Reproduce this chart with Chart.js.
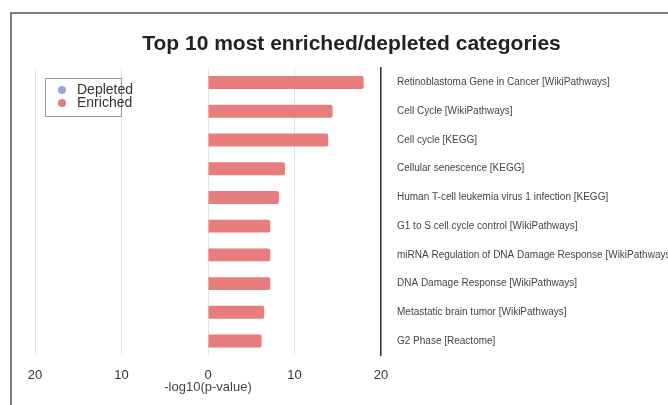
<!DOCTYPE html>
<html>
<head>
<meta charset="utf-8">
<script src="https://cdn.jsdelivr.net/npm/chart.js@4"></script>
<style>
  html, body { margin: 0; padding: 0; background: #fff; }
  #wrap { width: 668px; height: 405px; }
</style>
</head>
<body>
<div id="wrap"><canvas id="enrichChart" width="668" height="405"></canvas></div>
<script>
// categories, top to bottom
const categories = [
  'Retinoblastoma Gene in Cancer [WikiPathways]',
  'Cell Cycle [WikiPathways]',
  'Cell cycle [KEGG]',
  'Cellular senescence [KEGG]',
  'Human T-cell leukemia virus 1 infection [KEGG]',
  'G1 to S cell cycle control [WikiPathways]',
  'miRNA Regulation of DNA Damage Response [WikiPathways]',
  'DNA Damage Response [WikiPathways]',
  'Metastatic brain tumor [WikiPathways]',
  'G2 Phase [Reactome]'
];
// -log10(p-value), enriched go right, depleted go left (none here)
const enrichedValues = [18.0, 14.4, 13.9, 8.9, 8.2, 7.2, 7.2, 7.2, 6.5, 6.2];
const depletedValues = [null, null, null, null, null, null, null, null, null, null];
const xTicks = [-20, -10, 0, 10, 20];
const xTitle = '-log10(p-value)';

const depletedColor = '#92aad3';
const enrichedColor = '#e87d7d';
const font = '"Liberation Sans", Arial, sans-serif';

// frame, legend box and x title drawn by hand
const framePlugin = {
  id: 'frame',
  afterDraw(chart) {
    const ctx = chart.ctx;
    const area = chart.chartArea;
    ctx.save();
    ctx.strokeStyle = '#555';
    ctx.lineWidth = 1.5;
    ctx.beginPath();
    ctx.moveTo(11, 405);
    ctx.lineTo(11, 13);
    ctx.lineTo(668, 13);
    ctx.stroke();

    // legend
    ctx.strokeStyle = '#999';
    ctx.lineWidth = 1;
    ctx.strokeRect(45.5, 78.5, 76, 38);
    ctx.font = '14px ' + font;
    ctx.textBaseline = 'middle';
    chart.data.datasets.forEach((ds, i) => {
      const y = 90 + i * 13;
      ctx.fillStyle = ds.backgroundColor;
      ctx.beginPath();
      ctx.arc(62, y, 4, 0, Math.PI * 2);
      ctx.fill();
      ctx.fillStyle = '#333';
      ctx.fillText(ds.label, 77, y);
    });

    // x axis title
    ctx.font = '13px ' + font;
    ctx.fillStyle = '#444';
    ctx.textAlign = 'center';
    ctx.fillText(xTitle, (area.left + area.right) / 2, 387);
    ctx.restore();
  }
};

new Chart(document.getElementById('enrichChart'), {
  type: 'bar',
  data: {
    labels: categories,
    datasets: [
      { label: 'Depleted', data: depletedValues, backgroundColor: depletedColor, barPercentage: 0.45, categoryPercentage: 1, borderRadius: 2 },
      { label: 'Enriched', data: enrichedValues, backgroundColor: enrichedColor, barPercentage: 0.45, categoryPercentage: 1, borderRadius: 2 }
    ]
  },
  options: {
    indexAxis: 'y',
    responsive: false,
    animation: false,
    layout: { padding: { left: 35, right: 0, top: 32, bottom: 10 } },
    plugins: {
      legend: { display: false },
      tooltip: { enabled: false },
      title: {
        display: true,
        text: 'Top 10 most enriched/depleted categories',
        color: '#222',
        font: { family: font, size: 21, weight: 'bold' },
        padding: { top: 0, bottom: 11 }
      }
    },
    scales: {
      x: {
        min: -20,
        max: 20,
        afterBuildTicks(scale) { scale.ticks = xTicks.map(v => ({ value: v })); },
        grid: { color: '#e4e4e4', drawTicks: false },
        border: { display: false },
        ticks: {
          color: '#333',
          padding: 12,
          font: { family: font, size: 13 },
          callback: v => Math.abs(v)
        }
      },
      y: {
        position: 'right',
        stacked: true,
        grid: { display: false, drawTicks: false },
        border: { display: true, color: '#333', width: 1.5 },
        afterFit(scale) { scale.width = 287; },
        ticks: {
          color: '#444',
          padding: 16,
          font: { family: font, size: 10 }
        }
      }
    }
  },
  plugins: [framePlugin]
});
</script>
</body>
</html>
